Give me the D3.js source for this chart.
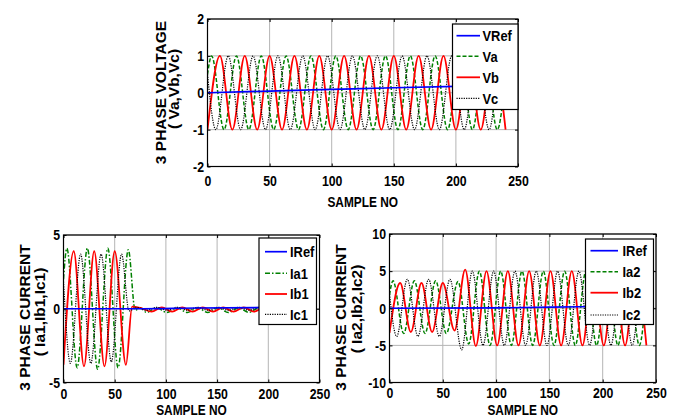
<!DOCTYPE html>
<meta charset="utf-8">
<html>
<head>
<script type="text/javascript" src="https://d3js.org/d3.v7.js"></script>
<style>
  body { margin: 0; background: white; }
  svg text { font-family: "Liberation Sans", Arial, sans-serif; font-weight: bold; fill: black; }
</style>
</head>
<body>
<div id="plotArea"></div>
<script>

  // ---- data: [sample, value] at the turning points of each trace ----
  var sampleTicks = [0, 50, 100, 150, 200, 250];
  var vTicks = [-2, -1, 0, 1, 2];
  var i1Ticks = [-5, 0, 5];
  var i2Ticks = [-10, -5, 0, 5, 10];

  var vNames = ['VRef', 'Va', 'Vb', 'Vc'];
  var i1Names = ['IRef', 'Ia1', 'Ib1', 'Ic1'];
  var i2Names = ['IRef', 'Ia2', 'Ib2', 'Ic2'];

  // top plot - voltages
  var vRef = [[0,0],[50,0.045],[100,0.09],[150,0.135],[200,0.175],[240,0.2]];
  var va = [[0,0.5],[3.3,1],[13.3,-1],[23.3,1],[33.3,-1],[43.3,1],[53.3,-1],[63.3,1],[73.3,-1],[83.3,1],
            [93.3,-1],[103.3,1],[113.3,-1],[123.3,1],[133.3,-1],[143.3,1],[153.3,-1],[163.3,1],[173.3,-1],
            [183.3,1],[193.3,-1],[203.3,1],[213.3,-1],[223.3,1],[233.3,-1],[240,0.5]];
  var vb = [[0,-1],[10,1],[20,-1],[30,1],[40,-1],[50,1],[60,-1],[70,1],[80,-1],[90,1],[100,-1],[110,1],
            [120,-1],[130,1],[140,-1],[150,1],[160,-1],[170,1],[180,-1],[190,1],[200,-1],[210,1],[220,-1],
            [230,1],[240,-1]];
  var vc = [[0,0.5],[6.7,-1],[16.7,1],[26.7,-1],[36.7,1],[46.7,-1],[56.7,1],[66.7,-1],[76.7,1],[86.7,-1],
            [96.7,1],[106.7,-1],[116.7,1],[126.7,-1],[136.7,1],[146.7,-1],[156.7,1],[166.7,-1],[176.7,1],
            [186.7,-1],[196.7,1],[206.7,-1],[216.7,1],[226.7,-1],[236.7,1],[240,0.5]];

  // bottom left - currents set 1
  var iRef1 = [[0,0],[70,0],[130,0.05],[240,0.1]];
  var ia1 = [[0,2.0],[3.3,4.1],[13.3,-4.0],[23.3,4.1],[33.3,-4.1],[43.3,4.1],[53.3,-4.0],[63.3,4.0],[70,-0.1],
             [75,0.05],[81,-0.25],[91,0.05],[101,-0.25],[111,0.05],[121,-0.25],[131,0.05],[141,-0.25],[151,0.05],
             [161,-0.25],[171,0.05],[181,-0.25],[191,0.05],[201,-0.2],[211,0.05],[221,-0.2],[231,0.05],[240,-0.1]];
  var ib1 = [[0,-3.8],[10,3.9],[20,-3.9],[30,3.9],[40,-3.9],[50,3.9],[61,-3.8],[67,0.15],[76,0.05],[86,-0.2],
             [96,0.1],[106,-0.2],[116,0.1],[126,-0.2],[136,0.1],[146,-0.2],[156,0.1],[166,-0.2],[176,0.1],
             [186,-0.2],[196,0.1],[206,-0.2],[216,0.1],[226,-0.2],[236,0.1],[240,0]];
  var ic1 = [[0,1.85],[6.7,-3.7],[16.7,3.7],[26.7,-3.7],[36.7,3.7],[46.7,-3.6],[56.7,3.7],[64,-0.15],[71,0.1],
             [81,-0.1],[91,0.1],[101,-0.1],[111,0.1],[121,-0.1],[131,0.1],[141,-0.1],[151,0.1],[161,-0.1],
             [171,0.1],[181,-0.1],[191,0.1],[201,-0.1],[211,0.1],[221,-0.1],[231,0.1],[240,0]];

  // bottom right - currents set 2
  var iRef2 = [[0,0],[100,0.05],[180,0.2],[241,0.3]];
  var ia2 = [[0,1.8],[3.3,3.7],[13.3,-3.4],[23.3,3.7],[33.3,-3.4],[43.3,3.7],[53.3,-3.4],[64.3,3.6],[74.3,-4.8],
             [84.3,5],[94.3,-5],[104.3,5],[114.3,-5],[124.3,5],[134.3,-5],[144.3,5],[154.3,-5],[164.3,5],
             [174.3,-5],[184.3,5],[194.3,-5],[204.3,5],[214.3,-5],[224.3,5],[234.3,-5],[241,2.5]];
  var ib2 = [[0,-3.3],[10,3.4],[20,-3.2],[30,3.4],[40,-3.2],[50,3.4],[61,-3.0],[71,5.2],[81,-5.1],[91,5],
             [101,-5],[111,5],[121,-5],[131,5],[141,-5],[151,5],[161,-5],[171,5],[181,-5],[191,5],[201,-5],
             [211,5],[221,-5],[231,5],[241,-5]];
  var ic2 = [[0,1.9],[6.7,-3.8],[16.7,3.9],[26.7,-3.8],[36.7,3.9],[46.7,-3.8],[56.7,3.9],[67.7,-5.6],[77.7,5],
             [87.7,-5],[97.7,5],[107.7,-5],[117.7,5],[127.7,-5],[137.7,5],[147.7,-5],[157.7,5],[167.7,-5],
             [177.7,5],[187.7,-5],[197.7,5],[207.7,-5],[217.7,5],[227.7,-5],[237.7,5],[241,2.5]];

  // ---- line styles ----
  var styles = {
    ref: {color: '#0000ff', width: 1.7, dash: null},
    a:   {color: '#008000', width: 1.5, dash: '4,2'},
    aDot:{color: '#008000', width: 1.5, dash: '5,2,1.5,2'},
    b:   {color: '#ff0000', width: 1.8, dash: null},
    c:   {color: '#000000', width: 1.2, dash: '1.2,1.2'}
  };

  var panels = [
    { rect: [207.5, 19, 518, 166.5], yDom: [-2, 2], yTicks: vTicks, xPad: 8.5,
      series: [[va, styles.a], [vb, styles.b], [vc, styles.c], [vRef, styles.ref]],
      names: vNames, legStyles: [styles.ref, styles.a, styles.b, styles.c],
      legend: {x: 452.5, y: 24, w: 65.5, h: 85.5, lx0: 456.5, lx1: 480, tx: 482.5, rows: [35.7, 56.3, 77.3, 98.3]},
      xLabelY: 207.3,
      yLab1: {x: 165.5, y: 92.5, t: '3 PHASE VOLTAGE'}, yLab2: {x: 178.5, y: 89, t: '( Va,Vb,Vc)'} },
    { rect: [63.5, 235, 319.5, 382.5], yDom: [-5, 5], yTicks: i1Ticks, xPad: 5.5,
      series: [[ia1, styles.aDot], [ib1, styles.b], [ic1, styles.c], [iRef1, styles.ref]],
      names: i1Names, legStyles: [styles.ref, styles.aDot, styles.b, styles.c],
      legend: {x: 259, y: 238, w: 57.5, h: 86.5, lx0: 265, lx1: 287, tx: 290, rows: [251.7, 273.3, 294, 314.3]},
      xLabelY: 414.5,
      yLab1: {x: 29.5, y: 317.5, t: '3 PHASE CURRENT'}, yLab2: {x: 44.5, y: 312, t: '( Ia1,Ib1,Ic1)'} },
    { rect: [389.5, 234, 656, 382.5], yDom: [-10, 10], yTicks: i2Ticks, xPad: 4.5,
      series: [[ia2, styles.a], [ib2, styles.b], [ic2, styles.c], [iRef2, styles.ref]],
      names: i2Names, legStyles: [styles.ref, styles.a, styles.b, styles.c],
      legend: {x: 585.5, y: 239, w: 68, h: 85.5, lx0: 590.5, lx1: 618, tx: 622.5, rows: [250.7, 271.7, 292.7, 315]},
      xLabelY: 414.5,
      yLab1: {x: 345.5, y: 317.5, t: '3 PHASE CURRENT'}, yLab2: {x: 361.5, y: 309, t: '( Ia2,Ib2,Ic2)'} }
  ];

  const svg = d3.select('#plotArea').append('svg')
    .attr('width', 676).attr('height', 417);

  var squeeze = 0.82;
  var fmt = function(d){ return String(d); };

  panels.forEach(function(p, pi) {
    var x0 = p.rect[0], y0 = p.rect[1], x1 = p.rect[2], y1 = p.rect[3];
    var xScale = d3.scaleLinear().domain([0, 250]).range([x0, x1]);
    var yScale = d3.scaleLinear().domain(p.yDom).range([y1, y0]);

    // grid
    var grid = svg.append('g').attr('stroke', '#b4b4b4').attr('stroke-width', 1);
    grid.selectAll('.gx').data(sampleTicks).enter().append('line')
      .attr('x1', function(d){ return xScale(d); }).attr('x2', function(d){ return xScale(d); })
      .attr('y1', y0).attr('y2', y1);
    grid.selectAll('.gy').data(p.yTicks).enter().append('line')
      .attr('x1', x0).attr('x2', x1)
      .attr('y1', function(d){ return yScale(d); }).attr('y2', function(d){ return yScale(d); });

    // traces
    svg.append('clipPath').attr('id', 'clip' + pi).append('rect')
      .attr('x', x0).attr('y', y0).attr('width', x1 - x0).attr('height', y1 - y0);
    var line = d3.line()
      .x(function(d){ return xScale(d[0]); })
      .y(function(d){ return yScale(d[1]); })
      .curve(d3.curveMonotoneX);
    var traces = svg.append('g').attr('clip-path', 'url(#clip' + pi + ')');
    p.series.forEach(function(s) {
      traces.append('path').datum(s[0])
        .attr('d', line)
        .attr('fill', 'none')
        .attr('stroke', s[1].color)
        .attr('stroke-width', s[1].width)
        .attr('stroke-dasharray', s[1].dash);
    });

    // axes (ticks pointing in, MATLAB style)
    var xAxis = svg.append('g').attr('transform', 'translate(0,' + y1 + ')')
      .call(d3.axisBottom(xScale).tickValues(sampleTicks).tickFormat(fmt).tickSizeInner(-3).tickSizeOuter(0).tickPadding(p.xPad));
    var yAxis = svg.append('g').attr('transform', 'translate(' + x0 + ',0)')
      .call(d3.axisLeft(yScale).tickValues(p.yTicks).tickFormat(fmt).tickSizeInner(-3).tickSizeOuter(0).tickPadding(3.5 / squeeze));
    svg.append('g').attr('transform', 'translate(0,' + y0 + ')')
      .call(d3.axisTop(xScale).tickValues(sampleTicks).tickFormat('').tickSizeInner(-3).tickSizeOuter(0));
    svg.append('g').attr('transform', 'translate(' + x1 + ',0)')
      .call(d3.axisRight(yScale).tickValues(p.yTicks).tickFormat('').tickSizeInner(-3).tickSizeOuter(0));
    svg.selectAll('.domain').remove();
    svg.selectAll('.tick line').attr('stroke', 'black');
    [xAxis, yAxis].forEach(function(a) {
      a.attr('font-family', null).attr('font-size', 15);
      a.selectAll('text').attr('transform', 'scale(' + squeeze + ',1)');
    });

    // frame
    svg.append('rect').attr('x', x0).attr('y', y0).attr('width', x1 - x0).attr('height', y1 - y0)
      .attr('fill', 'none').attr('stroke', 'black').attr('stroke-width', 1.2);

    // legend
    var L = p.legend;
    var leg = svg.append('g');
    leg.append('rect').attr('x', L.x).attr('y', L.y).attr('width', L.w).attr('height', L.h)
      .attr('fill', 'white').attr('stroke', 'black').attr('stroke-width', 1.2);
    p.names.forEach(function(n, i) {
      var st = p.legStyles[i];
      leg.append('line').attr('x1', L.lx0).attr('x2', L.lx1).attr('y1', L.rows[i]).attr('y2', L.rows[i])
        .attr('stroke', st.color).attr('stroke-width', st.width).attr('stroke-dasharray', st.dash);
      leg.append('text')
        .attr('transform', 'translate(' + L.tx + ',' + L.rows[i] + ') scale(0.86,1)')
        .attr('dy', '0.36em').style('font-size', '15px').text(n);
    });

    // axis titles
    svg.append('text')
      .attr('transform', 'translate(' + ((x0 + x1) / 2) + ',' + p.xLabelY + ') scale(' + squeeze + ',1)')
      .style('text-anchor', 'middle').style('font-size', '14.5px').text('SAMPLE NO');
    [p.yLab1, p.yLab2].forEach(function(l) {
      svg.append('text')
        .attr('transform', 'translate(' + l.x + ',' + l.y + ') rotate(-90)')
        .style('text-anchor', 'middle').style('font-size', '15.5px').text(l.t);
    });
  });

</script>
</body>
</html>
